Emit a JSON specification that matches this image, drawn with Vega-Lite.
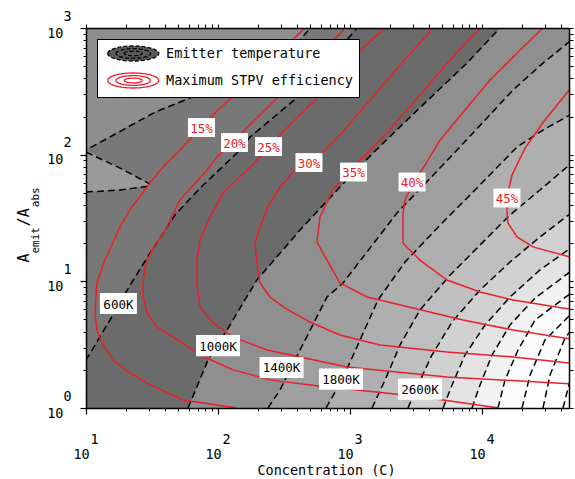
{
  "$schema": "https://vega.github.io/schema/vega-lite/v6.json",
  "width": 483,
  "height": 380,
  "autosize": {"type": "none"},
  "padding": {"left": 86, "top": 28, "right": 6, "bottom": 71},
  "background": "white",
  "config": {"view": {"fill": "#787878", "stroke": null}},
  "resolve": {"axis": {"x": "independent", "y": "independent"}},
  "datasets": {
    "temps": [
      {"k": "ridge", "x": 9.0, "y": 108.7}, {"k": "ridge", "x": 10, "y": 108.7}, {"k": "ridge", "x": 33.4, "y": 216.8}, {"k": "ridge", "x": 56.2, "y": 270}, {"k": "ridge", "x": 123, "y": 374}, {"k": "ridge", "x": 248, "y": 538}, {"k": "ridge", "x": 418, "y": 803}, {"k": "ridge", "x": 498, "y": 1000}, {"k": "ridge", "x": 1000, "y": 100000},
      {"k": "s1", "x": 10, "y": 104.9}, {"k": "s1", "x": 18.1, "y": 78.4}, {"k": "s1", "x": 30.5, "y": 58.6},
      {"k": "s2", "x": 10, "y": 50.7}, {"k": "s2", "x": 18.1, "y": 52.6}, {"k": "s2", "x": 30.5, "y": 56.5},
      {"k": "600K", "x": 9.0, "y": 2.0}, {"k": "600K", "x": 10, "y": 2.39}, {"k": "600K", "x": 15.2, "y": 4.95}, {"k": "600K", "x": 20.5, "y": 8.54}, {"k": "600K", "x": 30.5, "y": 16.7}, {"k": "600K", "x": 47.2, "y": 33.4}, {"k": "600K", "x": 73.1, "y": 54.5}, {"k": "600K", "x": 146.9, "y": 108.7}, {"k": "600K", "x": 174.6, "y": 137.7}, {"k": "600K", "x": 418, "y": 295}, {"k": "600K", "x": 1130, "y": 1000}, {"k": "600K", "x": 100000, "y": 1000000},
      {"k": "1000K", "x": 59.3, "y": 1}, {"k": "1000K", "x": 84.0, "y": 2.39}, {"k": "1000K", "x": 117, "y": 4.13}, {"k": "1000K", "x": 197, "y": 10.24}, {"k": "1000K", "x": 418, "y": 25.4}, {"k": "1000K", "x": 839, "y": 55.5}, {"k": "1000K", "x": 1494, "y": 103}, {"k": "1000K", "x": 2851, "y": 198}, {"k": "1000K", "x": 7690, "y": 528}, {"k": "1000K", "x": 13680, "y": 1000}, {"k": "1000K", "x": 100000, "y": 1000000},
      {"k": "1400K", "x": 239, "y": 1}, {"k": "1400K", "x": 295, "y": 1.387}, {"k": "1400K", "x": 418, "y": 2.87}, {"k": "1400K", "x": 670, "y": 7.52}, {"k": "1400K", "x": 885, "y": 9.70}, {"k": "1400K", "x": 2270, "y": 34.6}, {"k": "1400K", "x": 6471, "y": 108.7}, {"k": "1400K", "x": 17180, "y": 324}, {"k": "1400K", "x": 28970, "y": 528}, {"k": "1400K", "x": 50700, "y": 848},
      {"k": "1800K", "x": 658, "y": 1}, {"k": "1800K", "x": 869, "y": 1.66}, {"k": "1800K", "x": 1191, "y": 3.44}, {"k": "1800K", "x": 1629, "y": 7.12}, {"k": "1800K", "x": 2612, "y": 14.2}, {"k": "1800K", "x": 4808, "y": 27.8}, {"k": "1800K", "x": 8850, "y": 52.6}, {"k": "1800K", "x": 18410, "y": 114.8}, {"k": "1800K", "x": 28970, "y": 156.3}, {"k": "1800K", "x": 50700, "y": 216.8},
      {"k": "2200K", "x": 1469, "y": 1}, {"k": "2200K", "x": 1841, "y": 1.66}, {"k": "2200K", "x": 2393, "y": 3.14}, {"k": "2200K", "x": 3388, "y": 5.94}, {"k": "2200K", "x": 5728, "y": 11.2}, {"k": "2200K", "x": 9660, "y": 19.35}, {"k": "2200K", "x": 16290, "y": 33.4}, {"k": "2200K", "x": 27480, "y": 52.6}, {"k": "2200K", "x": 50700, "y": 90.6},
      {"k": "2600K", "x": 2748, "y": 1}, {"k": "2600K", "x": 3273, "y": 1.52}, {"k": "2600K", "x": 4178, "y": 2.62}, {"k": "2600K", "x": 5929, "y": 4.77}, {"k": "2600K", "x": 9660, "y": 8.54}, {"k": "2600K", "x": 16290, "y": 14.2}, {"k": "2600K", "x": 27480, "y": 22.4}, {"k": "2600K", "x": 50700, "y": 36.6},
      {"k": "3000K", "x": 5070, "y": 1}, {"k": "3000K", "x": 5929, "y": 1.52}, {"k": "3000K", "x": 7430, "y": 2.62}, {"k": "3000K", "x": 10540, "y": 4.52}, {"k": "3000K", "x": 16290, "y": 7.52}, {"k": "3000K", "x": 27480, "y": 12.3}, {"k": "3000K", "x": 50700, "y": 19.35},
      {"k": "3400K", "x": 8395, "y": 1}, {"k": "3400K", "x": 9660, "y": 1.52}, {"k": "3400K", "x": 11910, "y": 2.62}, {"k": "3400K", "x": 16290, "y": 4.52}, {"k": "3400K", "x": 25240, "y": 7.38}, {"k": "3400K", "x": 50700, "y": 12.7},
      {"k": "3800K", "x": 13210, "y": 1}, {"k": "3800K", "x": 14930, "y": 1.66}, {"k": "3800K", "x": 18750, "y": 2.87}, {"k": "3800K", "x": 25240, "y": 4.95}, {"k": "3800K", "x": 50700, "y": 8.54},
      {"k": "4200K", "x": 20090, "y": 1}, {"k": "4200K", "x": 23120, "y": 1.82}, {"k": "4200K", "x": 29990, "y": 3.44}, {"k": "4200K", "x": 50700, "y": 5.94},
      {"k": "4600K", "x": 28970, "y": 1}, {"k": "4600K", "x": 32730, "y": 1.82}, {"k": "4600K", "x": 42560, "y": 3.57}, {"k": "4600K", "x": 50700, "y": 4.52},
      {"k": "5000K", "x": 41110, "y": 1}, {"k": "5000K", "x": 46450, "y": 1.66}, {"k": "5000K", "x": 53330, "y": 2.87}
    ],
    "spike": [
      {"x": 9.0, "lo": 50.7, "hi": 108.7}, {"x": 10, "lo": 50.7, "hi": 108.7}, {"x": 18.1, "lo": 52.6, "hi": 78.4}, {"x": 30.5, "lo": 56.5, "hi": 58.6}
    ],
    "eff": [
      {"c": "15%", "i": 0, "x": 456, "y": 1000}, {"c": "15%", "i": 1, "x": 256, "y": 558}, {"c": "15%", "i": 2, "x": 146.9, "y": 324}, {"c": "15%", "i": 3, "x": 100, "y": 225}, {"c": "15%", "i": 4, "x": 73.1, "y": 162}, {"c": "15%", "i": 5, "x": 51.5, "y": 108.7}, {"c": "15%", "i": 6, "x": 39.6, "y": 82.8}, {"c": "15%", "i": 7, "x": 30.5, "y": 59.7}, {"c": "15%", "i": 8, "x": 21.5, "y": 36.6}, {"c": "15%", "i": 9, "x": 18.1, "y": 26.8}, {"c": "15%", "i": 10, "x": 13.9, "y": 14.7}, {"c": "15%", "i": 11, "x": 12.1, "y": 9.70}, {"c": "15%", "i": 12, "x": 11.7, "y": 5.62}, {"c": "15%", "i": 13, "x": 12.1, "y": 4.13}, {"c": "15%", "i": 14, "x": 13.5, "y": 3.14}, {"c": "15%", "i": 15, "x": 16.0, "y": 2.39}, {"c": "15%", "i": 16, "x": 21.5, "y": 1.89}, {"c": "15%", "i": 17, "x": 29.0, "y": 1.57}, {"c": "15%", "i": 18, "x": 54.3, "y": 1.157}, {"c": "15%", "i": 19, "x": 139, "y": 1},
      {"c": "20%", "i": 0, "x": 916, "y": 1000}, {"c": "20%", "i": 1, "x": 593, "y": 611}, {"c": "20%", "i": 2, "x": 383, "y": 388}, {"c": "20%", "i": 3, "x": 248, "y": 246.6}, {"c": "20%", "i": 4, "x": 174.6, "y": 171.4}, {"c": "20%", "i": 5, "x": 127.6, "y": 123.6}, {"c": "20%", "i": 6, "x": 98.2, "y": 95.7}, {"c": "20%", "i": 7, "x": 82.6, "y": 75.6}, {"c": "20%", "i": 8, "x": 51.5, "y": 43.9}, {"c": "20%", "i": 9, "x": 41.1, "y": 26.8}, {"c": "20%", "i": 10, "x": 31.6, "y": 17.7}, {"c": "20%", "i": 11, "x": 28.0, "y": 12.97}, {"c": "20%", "i": 12, "x": 27.0, "y": 9.70}, {"c": "20%", "i": 13, "x": 27.0, "y": 7.52}, {"c": "20%", "i": 14, "x": 29.0, "y": 5.62}, {"c": "20%", "i": 15, "x": 34.5, "y": 4.36}, {"c": "20%", "i": 16, "x": 49.8, "y": 3.44}, {"c": "20%", "i": 17, "x": 73.1, "y": 2.62}, {"c": "20%", "i": 18, "x": 130, "y": 2.0}, {"c": "20%", "i": 19, "x": 252, "y": 1.66}, {"c": "20%", "i": 20, "x": 582, "y": 1.49}, {"c": "20%", "i": 21, "x": 1346, "y": 1.36}, {"c": "20%", "i": 22, "x": 3508, "y": 1.22}, {"c": "20%", "i": 23, "x": 13460, "y": 1},
      {"c": "25%", "i": 0, "x": 1841, "y": 1000}, {"c": "25%", "i": 1, "x": 1092, "y": 611}, {"c": "25%", "i": 2, "x": 706, "y": 354}, {"c": "25%", "i": 3, "x": 418, "y": 205.6}, {"c": "25%", "i": 4, "x": 295, "y": 142.9}, {"c": "25%", "i": 5, "x": 235, "y": 112.7}, {"c": "25%", "i": 6, "x": 208, "y": 95.7}, {"c": "25%", "i": 7, "x": 166, "y": 75.6}, {"c": "25%", "i": 8, "x": 109, "y": 49.8}, {"c": "25%", "i": 9, "x": 86.9, "y": 32.2}, {"c": "25%", "i": 10, "x": 73.1, "y": 21.2}, {"c": "25%", "i": 11, "x": 69.3, "y": 14.7}, {"c": "25%", "i": 12, "x": 69.3, "y": 9.70}, {"c": "25%", "i": 13, "x": 73.1, "y": 6.27}, {"c": "25%", "i": 14, "x": 91.6, "y": 4.69}, {"c": "25%", "i": 15, "x": 130, "y": 3.63}, {"c": "25%", "i": 16, "x": 235, "y": 2.87}, {"c": "25%", "i": 17, "x": 418, "y": 2.53}, {"c": "25%", "i": 18, "x": 948, "y": 2.11}, {"c": "25%", "i": 19, "x": 5433, "y": 1.76}, {"c": "25%", "i": 20, "x": 46450, "y": 1.55},
      {"c": "30%", "i": 0, "x": 4256, "y": 1000}, {"c": "30%", "i": 1, "x": 2393, "y": 510}, {"c": "30%", "i": 2, "x": 1419, "y": 270}, {"c": "30%", "i": 3, "x": 839, "y": 142.9}, {"c": "30%", "i": 4, "x": 543, "y": 90.6}, {"c": "30%", "i": 5, "x": 383, "y": 75.6}, {"c": "30%", "i": 6, "x": 295, "y": 55.5}, {"c": "30%", "i": 7, "x": 239, "y": 38.6}, {"c": "30%", "i": 8, "x": 208, "y": 26.8}, {"c": "30%", "i": 9, "x": 190.5, "y": 20.0}, {"c": "30%", "i": 10, "x": 197, "y": 13.95}, {"c": "30%", "i": 11, "x": 208, "y": 9.70}, {"c": "30%", "i": 12, "x": 248, "y": 7.52}, {"c": "30%", "i": 13, "x": 322, "y": 6.15}, {"c": "30%", "i": 14, "x": 498, "y": 4.77}, {"c": "30%", "i": 15, "x": 839, "y": 3.77}, {"c": "30%", "i": 16, "x": 1687, "y": 3.14}, {"c": "30%", "i": 17, "x": 5433, "y": 2.77}, {"c": "30%", "i": 18, "x": 17180, "y": 2.53}, {"c": "30%", "i": 19, "x": 46450, "y": 2.265},
      {"c": "35%", "i": 0, "x": 9660, "y": 1000}, {"c": "35%", "i": 1, "x": 5728, "y": 558}, {"c": "35%", "i": 2, "x": 3388, "y": 295}, {"c": "35%", "i": 3, "x": 1841, "y": 142.9}, {"c": "35%", "i": 4, "x": 1191, "y": 90.6}, {"c": "35%", "i": 5, "x": 1035, "y": 75.6}, {"c": "35%", "i": 6, "x": 743, "y": 52.6}, {"c": "35%", "i": 7, "x": 593, "y": 32.2}, {"c": "35%", "i": 8, "x": 562, "y": 20.4}, {"c": "35%", "i": 9, "x": 670, "y": 14.7}, {"c": "35%", "i": 10, "x": 839, "y": 9.70}, {"c": "35%", "i": 11, "x": 1346, "y": 7.52}, {"c": "35%", "i": 12, "x": 2999, "y": 6.15}, {"c": "35%", "i": 13, "x": 7178, "y": 4.95}, {"c": "35%", "i": 14, "x": 17180, "y": 4.13}, {"c": "35%", "i": 15, "x": 46450, "y": 3.51},
      {"c": "40%", "i": 0, "x": 28970, "y": 1000}, {"c": "40%", "i": 1, "x": 19410, "y": 670}, {"c": "40%", "i": 2, "x": 11510, "y": 388}, {"c": "40%", "i": 3, "x": 7430, "y": 225}, {"c": "40%", "i": 4, "x": 4808, "y": 130}, {"c": "40%", "i": 5, "x": 3698, "y": 82.8}, {"c": "40%", "i": 6, "x": 2999, "y": 59.7}, {"c": "40%", "i": 7, "x": 2612, "y": 43.9}, {"c": "40%", "i": 8, "x": 2522, "y": 34.6}, {"c": "40%", "i": 9, "x": 2522, "y": 20.0}, {"c": "40%", "i": 10, "x": 3388, "y": 14.7}, {"c": "40%", "i": 11, "x": 5433, "y": 10.24}, {"c": "40%", "i": 12, "x": 9660, "y": 8.24}, {"c": "40%", "i": 13, "x": 17180, "y": 7.12}, {"c": "40%", "i": 14, "x": 46450, "y": 6.04},
      {"c": "45%", "i": 0, "x": 46450, "y": 330}, {"c": "45%", "i": 1, "x": 29990, "y": 187.6}, {"c": "45%", "i": 2, "x": 21180, "y": 112.7}, {"c": "45%", "i": 3, "x": 16870, "y": 69.0}, {"c": "45%", "i": 4, "x": 15450, "y": 46.3}, {"c": "45%", "i": 5, "x": 15450, "y": 36.6}, {"c": "45%", "i": 6, "x": 15740, "y": 28.8}, {"c": "45%", "i": 7, "x": 18410, "y": 22.4}, {"c": "45%", "i": 8, "x": 24320, "y": 18.7}, {"c": "45%", "i": 9, "x": 46450, "y": 15.56}
    ],
    "effLabels": [
      {"t": "15%", "x": 75.0, "y": 163.7}, {"t": "20%", "x": 133.4, "y": 124.7}, {"t": "25%", "x": 241.5, "y": 115.9}, {"t": "30%", "x": 488.7, "y": 86.6}, {"t": "35%", "x": 1064, "y": 72.9}, {"t": "40%", "x": 2951, "y": 60.8}, {"t": "45%", "x": 15450, "y": 45.5}
    ],
    "tempLabels": [
      {"t": "600K", "x": 17.6, "y": 6.68}, {"t": "1000K", "x": 100, "y": 3.11}, {"t": "1400K", "x": 303, "y": 2.09}, {"t": "1800K", "x": 855, "y": 1.69}, {"t": "2600K", "x": 3388, "y": 1.41}
    ]
  },
  "layer": [
    {
      "data": {"name": "temps"},
      "transform": [{"filter": "datum.k == 'ridge'"}],
      "mark": {"type": "area", "color": "#8e8e8e", "clip": true, "orient": "vertical"},
      "encoding": {
        "x": {"field": "x", "type": "quantitative", "scale": {"type": "log", "domain": [10, 45600], "nice": false},
          "axis": {"orient": "bottom", "values": [10, 100, 1000, 10000], "tickSize": 6, "tickWidth": 1.2, "tickColor": "black", "domain": true, "domainColor": "black", "domainWidth": 1.5, "grid": false, "labelExpr": "'10'", "labelFont": "DejaVu Sans Mono", "labelFontSize": 13.5, "labelColor": "black", "labelAlign": "center", "labelBaseline": "alphabetic", "labelPadding": 44, "labelOffset": -5, "labelFlush": false, "labelOverlap": false, "title": "Concentration (C)", "titleFont": "DejaVu Sans Mono", "titleFontSize": 13.5, "titleFontWeight": "normal", "titleColor": "black", "titleBaseline": "alphabetic", "titleAlign": "center", "titleX": 240, "titleY": 66, "zindex": 1}},
        "y": {"field": "y", "type": "quantitative", "scale": {"type": "log", "domain": [1, 1000], "nice": false},
          "axis": {"orient": "left", "values": [1, 10, 100, 1000], "tickSize": 6, "tickWidth": 1.2, "tickColor": "black", "domain": true, "domainColor": "black", "domainWidth": 1.5, "grid": false, "labelExpr": "'10'", "labelFont": "DejaVu Sans Mono", "labelFontSize": 13.5, "labelColor": "black", "labelAlign": "right", "labelBaseline": "alphabetic", "labelPadding": 17, "labelOffset": 9, "labelFlush": false, "labelOverlap": false, "title": "A\u00a0\u00a0\u00a0/A", "titleFont": "DejaVu Sans Mono", "titleFontSize": 15, "titleFontWeight": "normal", "titleColor": "black", "titleAngle": 270, "titleAlign": "left", "titleBaseline": "alphabetic", "titleX": -58, "titleY": 234, "zindex": 1}},
        "y2": {"datum": 1000}
      }
    },
    {
      "data": {"name": "spike"},
      "mark": {"type": "area", "color": "#9a9a9a", "clip": true, "orient": "vertical"},
      "encoding": {
        "x": {"field": "x", "type": "quantitative", "scale": {"type": "log", "domain": [10, 45600], "nice": false},
          "axis": {"orient": "bottom", "values": [10, 20, 30, 40, 50, 60, 70, 80, 90, 100, 200, 300, 400, 500, 600, 700, 800, 900, 1000, 2000, 3000, 4000, 5000, 6000, 7000, 8000, 9000, 10000, 20000, 30000, 40000], "tickSize": 3, "tickWidth": 1, "tickColor": "black", "domain": false, "grid": false, "labelExpr": "abs(log(datum.value)/LN10 - round(log(datum.value)/LN10)) < 0.01 ? format(round(log(datum.value)/LN10), 'd') : ''", "labelFont": "DejaVu Sans Mono", "labelFontSize": 13.5, "labelColor": "black", "labelAlign": "left", "labelBaseline": "alphabetic", "labelPadding": 32, "labelOffset": 4, "labelFlush": false, "labelOverlap": false, "title": null, "zindex": 1}},
        "y": {"field": "lo", "type": "quantitative", "scale": {"type": "log", "domain": [1, 1000], "nice": false},
          "axis": {"orient": "left", "values": [1, 2, 3, 4, 5, 6, 7, 8, 9, 10, 20, 30, 40, 50, 60, 70, 80, 90, 100, 200, 300, 400, 500, 600, 700, 800, 900, 1000], "tickSize": 3, "tickWidth": 1, "tickColor": "black", "domain": false, "grid": false, "labelExpr": "abs(log(datum.value)/LN10 - round(log(datum.value)/LN10)) < 0.01 ? format(round(log(datum.value)/LN10), 'd') : ''", "labelFont": "DejaVu Sans Mono", "labelFontSize": 13.5, "labelColor": "black", "labelAlign": "left", "labelBaseline": "alphabetic", "labelPadding": 20, "labelOffset": -8, "labelFlush": false, "labelOverlap": false, "title": "emit\u00a0\u00a0\u00a0abs", "titleFont": "DejaVu Sans Mono", "titleFontSize": 11, "titleFontWeight": "normal", "titleColor": "black", "titleAngle": 270, "titleAlign": "left", "titleBaseline": "alphabetic", "titleX": -48, "titleY": 225, "zindex": 1}},
        "y2": {"field": "hi"}
      }
    },
    {"data": {"name": "temps"}, "transform": [{"filter": "datum.k == '600K'"}], "mark": {"type": "area", "color": "#6b6b6b", "clip": true, "orient": "vertical"},
      "encoding": {"x": {"field": "x", "type": "quantitative", "scale": {"type": "log", "domain": [10, 45600], "nice": false}, "axis": null}, "y": {"field": "y", "type": "quantitative", "scale": {"type": "log", "domain": [1, 1000], "nice": false}, "axis": null}, "y2": {"datum": 1}}},
    {"data": {"name": "temps"}, "transform": [{"filter": "datum.k == '1000K'"}], "mark": {"type": "area", "color": "#8f8f8f", "clip": true, "orient": "vertical"},
      "encoding": {"x": {"field": "x", "type": "quantitative", "scale": {"type": "log", "domain": [10, 45600], "nice": false}, "axis": null}, "y": {"field": "y", "type": "quantitative", "scale": {"type": "log", "domain": [1, 1000], "nice": false}, "axis": null}, "y2": {"datum": 1}}},
    {"data": {"name": "temps"}, "transform": [{"filter": "datum.k == '1400K'"}], "mark": {"type": "area", "color": "#9f9f9f", "clip": true, "orient": "vertical"},
      "encoding": {"x": {"field": "x", "type": "quantitative", "scale": {"type": "log", "domain": [10, 45600], "nice": false}, "axis": null}, "y": {"field": "y", "type": "quantitative", "scale": {"type": "log", "domain": [1, 1000], "nice": false}, "axis": null}, "y2": {"datum": 1}}},
    {"data": {"name": "temps"}, "transform": [{"filter": "datum.k == '1800K'"}], "mark": {"type": "area", "color": "#afafaf", "clip": true, "orient": "vertical"},
      "encoding": {"x": {"field": "x", "type": "quantitative", "scale": {"type": "log", "domain": [10, 45600], "nice": false}, "axis": null}, "y": {"field": "y", "type": "quantitative", "scale": {"type": "log", "domain": [1, 1000], "nice": false}, "axis": null}, "y2": {"datum": 1}}},
    {"data": {"name": "temps"}, "transform": [{"filter": "datum.k == '2200K'"}], "mark": {"type": "area", "color": "#bfbfbf", "clip": true, "orient": "vertical"},
      "encoding": {"x": {"field": "x", "type": "quantitative", "scale": {"type": "log", "domain": [10, 45600], "nice": false}, "axis": null}, "y": {"field": "y", "type": "quantitative", "scale": {"type": "log", "domain": [1, 1000], "nice": false}, "axis": null}, "y2": {"datum": 1}}},
    {"data": {"name": "temps"}, "transform": [{"filter": "datum.k == '2600K'"}], "mark": {"type": "area", "color": "#d1d1d1", "clip": true, "orient": "vertical"},
      "encoding": {"x": {"field": "x", "type": "quantitative", "scale": {"type": "log", "domain": [10, 45600], "nice": false}, "axis": null}, "y": {"field": "y", "type": "quantitative", "scale": {"type": "log", "domain": [1, 1000], "nice": false}, "axis": null}, "y2": {"datum": 1}}},
    {"data": {"name": "temps"}, "transform": [{"filter": "datum.k == '3000K'"}], "mark": {"type": "area", "color": "#e3e3e3", "clip": true, "orient": "vertical"},
      "encoding": {"x": {"field": "x", "type": "quantitative", "scale": {"type": "log", "domain": [10, 45600], "nice": false}, "axis": null}, "y": {"field": "y", "type": "quantitative", "scale": {"type": "log", "domain": [1, 1000], "nice": false}, "axis": null}, "y2": {"datum": 1}}},
    {"data": {"name": "temps"}, "transform": [{"filter": "datum.k == '3400K'"}], "mark": {"type": "area", "color": "#f2f2f2", "clip": true, "orient": "vertical"},
      "encoding": {"x": {"field": "x", "type": "quantitative", "scale": {"type": "log", "domain": [10, 45600], "nice": false}, "axis": null}, "y": {"field": "y", "type": "quantitative", "scale": {"type": "log", "domain": [1, 1000], "nice": false}, "axis": null}, "y2": {"datum": 1}}},
    {"data": {"name": "temps"}, "transform": [{"filter": "datum.k == '3800K'"}], "mark": {"type": "area", "color": "#fbfbfb", "clip": true, "orient": "vertical"},
      "encoding": {"x": {"field": "x", "type": "quantitative", "scale": {"type": "log", "domain": [10, 45600], "nice": false}, "axis": null}, "y": {"field": "y", "type": "quantitative", "scale": {"type": "log", "domain": [1, 1000], "nice": false}, "axis": null}, "y2": {"datum": 1}}},
    {"data": {"name": "temps"}, "transform": [{"filter": "datum.k == '4200K'"}], "mark": {"type": "area", "color": "#ffffff", "clip": true, "orient": "vertical"},
      "encoding": {"x": {"field": "x", "type": "quantitative", "scale": {"type": "log", "domain": [10, 45600], "nice": false}, "axis": null}, "y": {"field": "y", "type": "quantitative", "scale": {"type": "log", "domain": [1, 1000], "nice": false}, "axis": null}, "y2": {"datum": 1}}},
    {
      "data": {"name": "temps"},
      "mark": {"type": "line", "strokeDash": [7, 4], "strokeWidth": 1.5, "clip": true},
      "encoding": {
        "x": {"field": "x", "type": "quantitative", "scale": {"type": "log", "domain": [10, 45600], "nice": false},
          "axis": {"orient": "top", "values": [10, 20, 30, 40, 50, 60, 70, 80, 90, 100, 200, 300, 400, 500, 600, 700, 800, 900, 1000, 2000, 3000, 4000, 5000, 6000, 7000, 8000, 9000, 10000, 20000, 30000, 40000], "tickSize": 4, "tickWidth": 1, "tickColor": "black", "labels": false, "domain": true, "domainColor": "black", "domainWidth": 1.5, "grid": false, "title": null, "zindex": 1}},
        "y": {"field": "y", "type": "quantitative", "scale": {"type": "log", "domain": [1, 1000], "nice": false},
          "axis": {"orient": "right", "values": [1, 2, 3, 4, 5, 6, 7, 8, 9, 10, 20, 30, 40, 50, 60, 70, 80, 90, 100, 200, 300, 400, 500, 600, 700, 800, 900, 1000], "tickSize": 4, "tickWidth": 1, "tickColor": "black", "labels": false, "domain": true, "domainColor": "black", "domainWidth": 1.5, "grid": false, "title": null, "zindex": 1}},
        "detail": {"field": "k"},
        "color": {"datum": "Emitter temperature", "type": "nominal",
          "scale": {"domain": ["Emitter temperature", "Maximum STPV efficiency"], "range": ["black", "#e8202c"]},
          "legend": {"orient": "top-left", "offset": 11, "title": null,
            "symbolType": "M-0.5,0A3.4,1,0,1,1,6.3,0A3.4,1,0,1,1,-0.5,0ZM0.6,0A2.3,0.65,0,1,1,5.2,0A2.3,0.65,0,1,1,0.6,0ZM1.7,0A1.2,0.32,0,1,1,4.1,0A1.2,0.32,0,1,1,1.7,0Z",
            "symbolSize": 225, "symbolStrokeWidth": 1.3, "labelFont": "DejaVu Sans Mono", "labelFontSize": 13.5, "labelColor": "black", "labelOffset": 46, "labelLimit": 400, "padding": 6, "rowPadding": 6, "strokeColor": "black", "fillColor": "white", "cornerRadius": 0,
            "encode": {"symbols": {"update": {"fill": {"signal": "datum.value === 'Emitter temperature' ? '#5a5a5a' : 'white'"}, "strokeDash": {"signal": "datum.value === 'Emitter temperature' ? [4, 2] : [1, 0]"}, "opacity": {"value": 1}}}}}
        }
      }
    },
    {
      "data": {"name": "eff"},
      "mark": {"type": "line", "strokeWidth": 1.5, "clip": true},
      "encoding": {
        "x": {"field": "x", "type": "quantitative", "scale": {"type": "log", "domain": [10, 45600], "nice": false}, "axis": null},
        "y": {"field": "y", "type": "quantitative", "scale": {"type": "log", "domain": [1, 1000], "nice": false}, "axis": null},
        "detail": {"field": "c"},
        "order": {"field": "i", "type": "quantitative"},
        "color": {"datum": "Maximum STPV efficiency", "type": "nominal",
          "scale": {"domain": ["Emitter temperature", "Maximum STPV efficiency"], "range": ["black", "#e8202c"]}}
      }
    },
    {
      "data": {"name": "effLabels"},
      "mark": {"type": "point", "shape": "M-1,-0.7H1V0.7H-1Z", "size": 729, "filled": true, "fill": "white", "opacity": 1, "strokeWidth": 0},
      "encoding": {
        "x": {"field": "x", "type": "quantitative", "scale": {"type": "log", "domain": [10, 45600], "nice": false}, "axis": null},
        "y": {"field": "y", "type": "quantitative", "scale": {"type": "log", "domain": [1, 1000], "nice": false}, "axis": null}
      }
    },
    {
      "data": {"name": "tempLabels"},
      "transform": [{"filter": "length(datum.t) == 4"}],
      "mark": {"type": "point", "shape": "M-1,-0.57H1V0.57H-1Z", "size": 1369, "filled": true, "fill": "white", "opacity": 1, "strokeWidth": 0},
      "encoding": {
        "x": {"field": "x", "type": "quantitative", "scale": {"type": "log", "domain": [10, 45600], "nice": false}, "axis": null},
        "y": {"field": "y", "type": "quantitative", "scale": {"type": "log", "domain": [1, 1000], "nice": false}, "axis": null}
      }
    },
    {
      "data": {"name": "tempLabels"},
      "transform": [{"filter": "length(datum.t) == 5"}],
      "mark": {"type": "point", "shape": "M-1,-0.48H1V0.48H-1Z", "size": 1936, "filled": true, "fill": "white", "opacity": 1, "strokeWidth": 0},
      "encoding": {
        "x": {"field": "x", "type": "quantitative", "scale": {"type": "log", "domain": [10, 45600], "nice": false}, "axis": null},
        "y": {"field": "y", "type": "quantitative", "scale": {"type": "log", "domain": [1, 1000], "nice": false}, "axis": null}
      }
    },
    {
      "data": {"name": "effLabels"},
      "mark": {"type": "text", "font": "DejaVu Sans Mono", "fontSize": 12.5, "color": "#e8202c", "align": "center", "baseline": "middle", "dy": 1},
      "encoding": {
        "x": {"field": "x", "type": "quantitative", "scale": {"type": "log", "domain": [10, 45600], "nice": false}, "axis": null},
        "y": {"field": "y", "type": "quantitative", "scale": {"type": "log", "domain": [1, 1000], "nice": false}, "axis": null},
        "text": {"field": "t"}
      }
    },
    {
      "data": {"name": "tempLabels"},
      "mark": {"type": "text", "font": "DejaVu Sans Mono", "fontSize": 12.5, "color": "black", "align": "center", "baseline": "middle", "dy": 1},
      "encoding": {
        "x": {"field": "x", "type": "quantitative", "scale": {"type": "log", "domain": [10, 45600], "nice": false}, "axis": null},
        "y": {"field": "y", "type": "quantitative", "scale": {"type": "log", "domain": [1, 1000], "nice": false}, "axis": null},
        "text": {"field": "t"}
      }
    }
  ]
}
